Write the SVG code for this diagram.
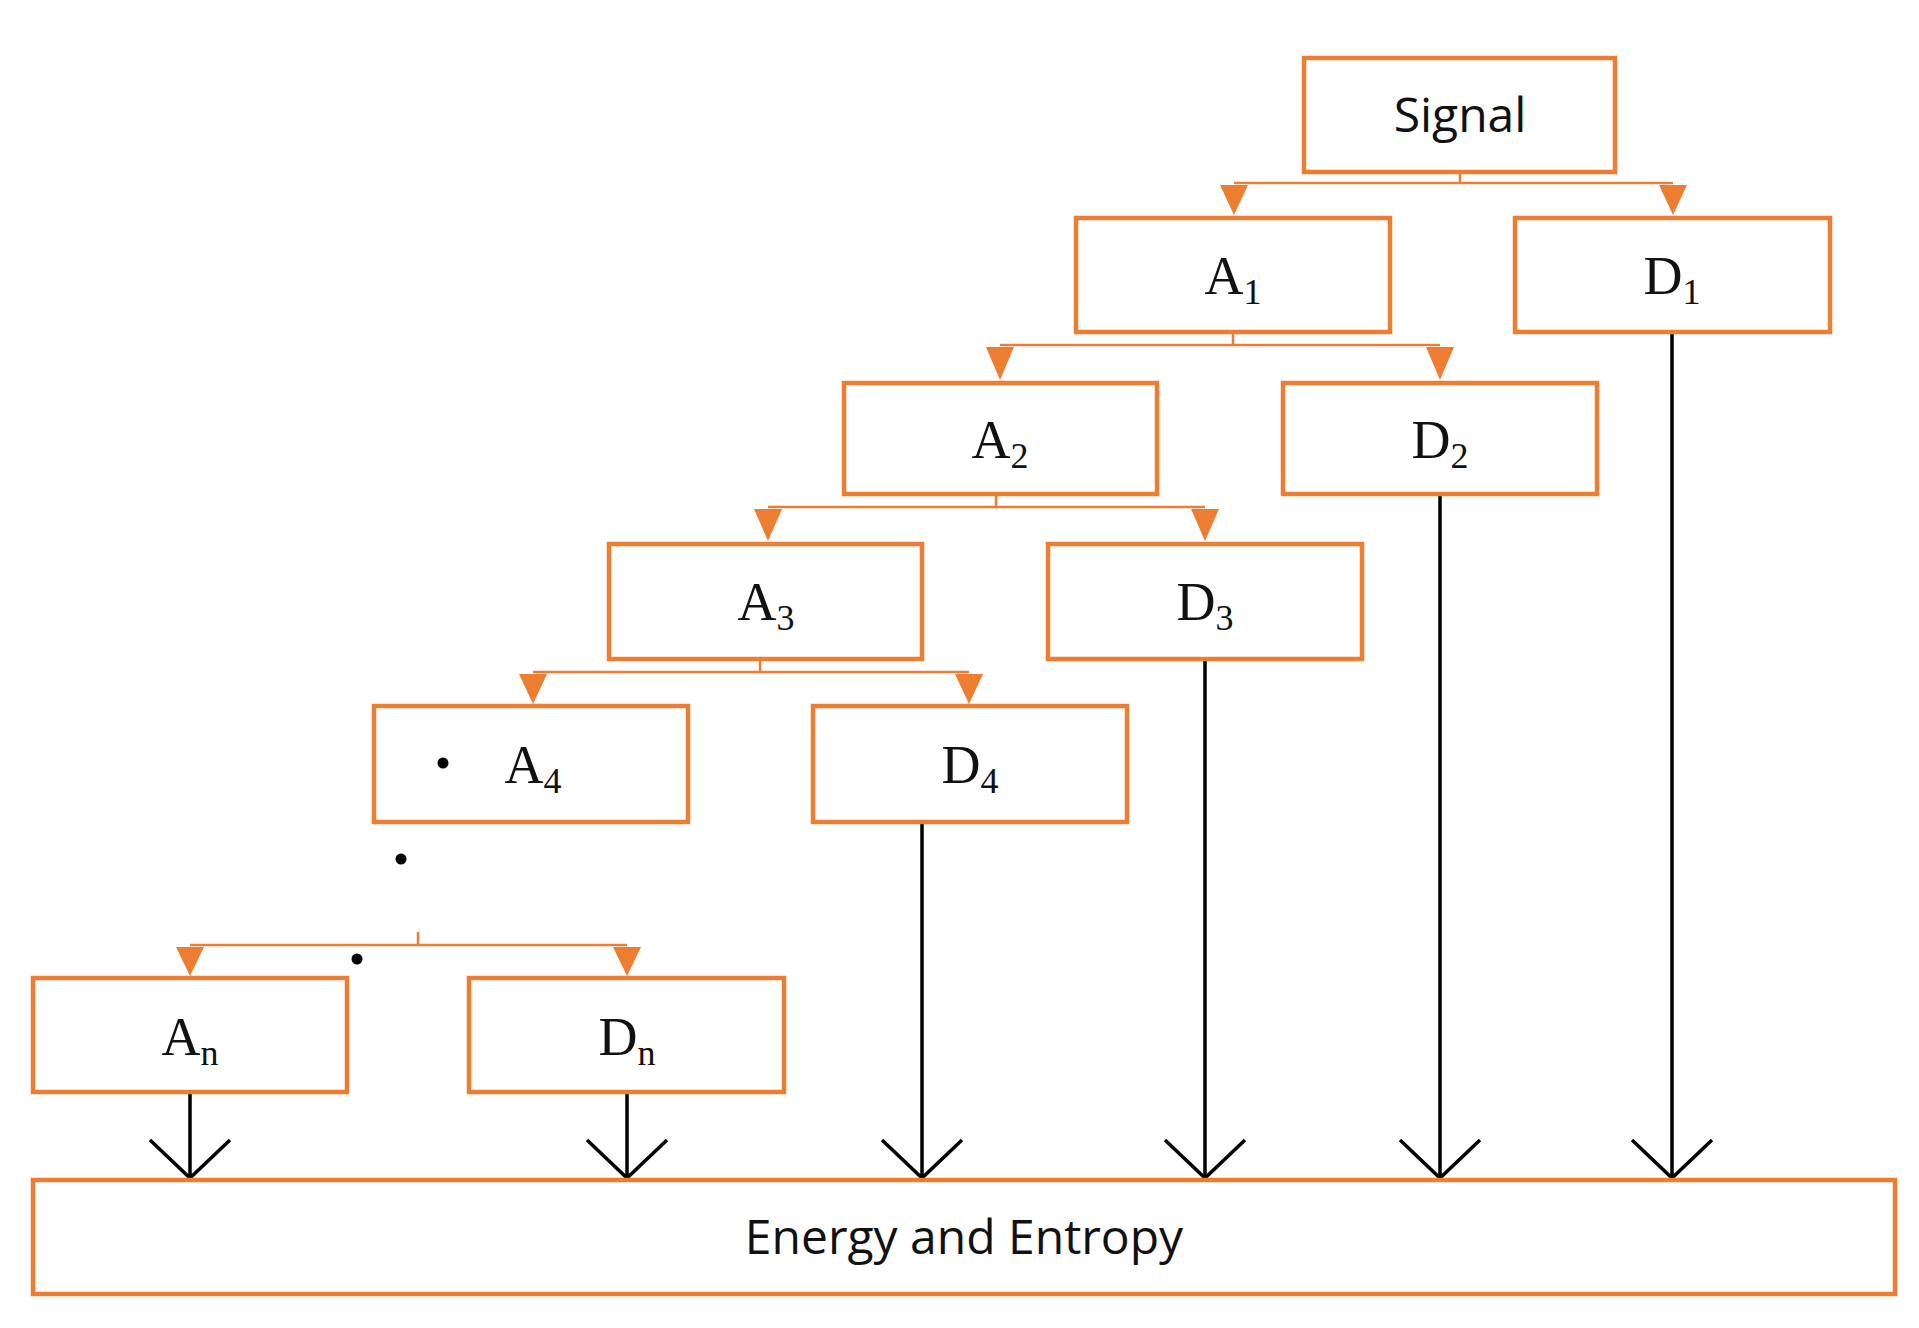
<svg xmlns="http://www.w3.org/2000/svg" width="1919" height="1328" viewBox="0 0 1919 1328">
<style>
.box{fill:#fff;stroke:#ED7D31;stroke-width:4.5}
.or{stroke:#ED7D31;stroke-width:2.5;fill:none}
.tri{fill:#ED7D31}
.bk{stroke:#000;stroke-width:3.5;fill:none}
.sans{font-family:"Open Sans","Liberation Sans",sans-serif;font-size:48px;fill:#111;text-anchor:middle}
.ser{font-family:"Liberation Serif","DejaVu Serif",serif;font-size:54px;fill:#111;text-anchor:middle}
.sub{font-size:36px}
</style>
<defs>
<marker id="v" markerWidth="24" markerHeight="24" refX="12" refY="22" orient="auto-start-reverse" markerUnits="userSpaceOnUse" viewBox="0 0 24 24">
<path d="M-10 -16 L12 22 L34 -16" transform="scale(0.55) translate(10,17)" fill="none" stroke="#000" stroke-width="6"/>
</marker>
</defs>
<rect width="1919" height="1328" fill="#fff"/>
<g id="connectors">
<path class="or" d="M1460 172V183M1234 183H1673M1233 332V345M1000 345H1440M996 494V507M768 507H1205M760 659V672M533 672H969M418 932V945M190 945H627"/>
<path class="tri" d="M1220 185h28l-14 30zM1659 185h28l-14 30zM986 347h28l-14 33zM1426 347h28l-14 33zM754 509h28l-14 32zM1191 509h28l-14 32zM519 674h28l-14 30zM955 674h28l-14 30zM176 947h28l-14 29zM613 947h28l-14 29z"/>
<g class="bk">
<path d="M190 1092V1178M150 1140L190 1178L230 1140"/>
<path d="M627 1092V1178M587 1140L627 1178L667 1140"/>
<path d="M922 822V1178M882 1140L922 1178L962 1140"/>
<path d="M1205 659V1178M1165 1140L1205 1178L1245 1140"/>
<path d="M1440 494V1178M1400 1140L1440 1178L1480 1140"/>
<path d="M1672 332V1178M1632 1140L1672 1178L1712 1140"/>
</g>
</g>
<g id="signal"><rect class="box" x="1304" y="58" width="311" height="114"/><text class="sans" x="1460" y="132">Signal</text></g>
<g id="A1"><rect class="box" x="1076" y="218" width="314" height="114"/><text class="ser" x="1233" y="294">A<tspan class="sub" dy="10">1</tspan></text></g>
<g id="D1"><rect class="box" x="1515" y="218" width="315" height="114"/><text class="ser" x="1672" y="294">D<tspan class="sub" dy="10">1</tspan></text></g>
<g id="A2"><rect class="box" x="844" y="383" width="313" height="111"/><text class="ser" x="1000" y="458">A<tspan class="sub" dy="10">2</tspan></text></g>
<g id="D2"><rect class="box" x="1283" y="383" width="314" height="111"/><text class="ser" x="1440" y="458">D<tspan class="sub" dy="10">2</tspan></text></g>
<g id="A3"><rect class="box" x="609" y="544" width="313" height="115"/><text class="ser" x="766" y="620">A<tspan class="sub" dy="10">3</tspan></text></g>
<g id="D3"><rect class="box" x="1048" y="544" width="314" height="115"/><text class="ser" x="1205" y="620">D<tspan class="sub" dy="10">3</tspan></text></g>
<g id="A4"><rect class="box" x="374" y="706" width="314" height="116"/><text class="ser" x="533" y="783">A<tspan class="sub" dy="10">4</tspan></text><circle cx="443" cy="763" r="5.5"/></g>
<g id="D4"><rect class="box" x="813" y="706" width="314" height="116"/><text class="ser" x="970" y="783">D<tspan class="sub" dy="10">4</tspan></text></g>
<g id="dots"><circle cx="401" cy="859" r="5.5"/><circle cx="357" cy="959" r="5.5"/></g>
<g id="An"><rect class="box" x="33" y="978" width="314" height="114"/><text class="ser" x="190" y="1055">A<tspan class="sub" dy="10">n</tspan></text></g>
<g id="Dn"><rect class="box" x="469" y="978" width="315" height="114"/><text class="ser" x="627" y="1055">D<tspan class="sub" dy="10">n</tspan></text></g>
<g id="energy"><rect class="box" x="33" y="1180" width="1862" height="114"/><text class="sans" x="964" y="1254">Energy and Entropy</text></g>
</svg>
